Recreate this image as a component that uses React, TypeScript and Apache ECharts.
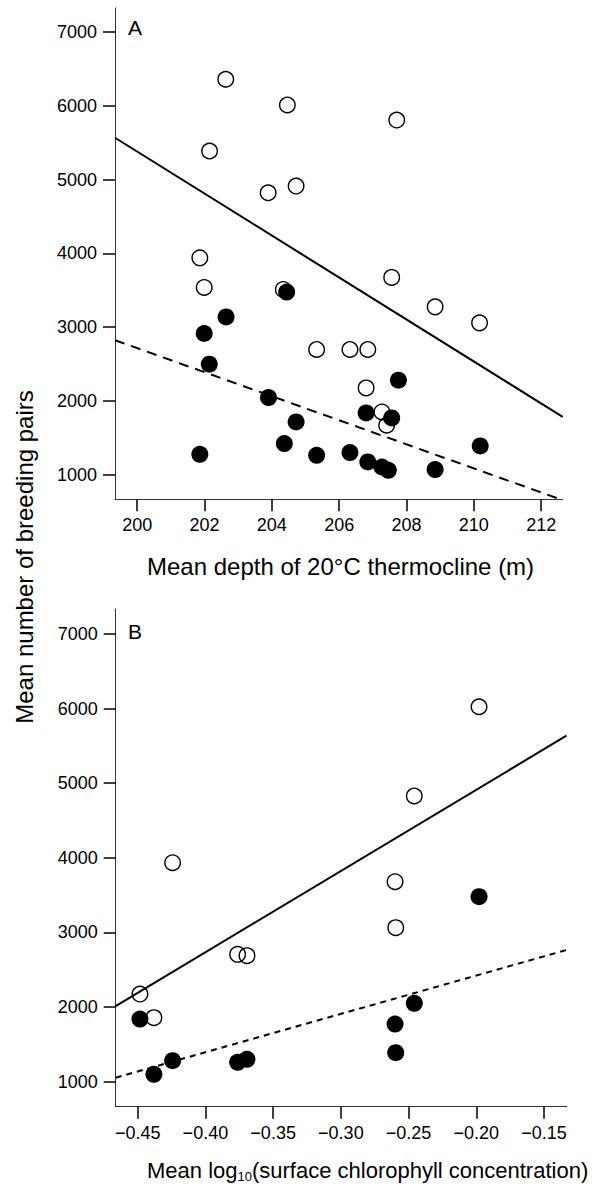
import React, { useEffect, useRef } from "react";
import * as echarts from "echarts";

// Tick labels
const depthTicks = [200, 202, 204, 206, 208, 210, 212];
const pairTicks = [1000, 2000, 3000, 4000, 5000, 6000, 7000];
const chlTicks = [-0.45, -0.4, -0.35, -0.3, -0.25, -0.2, -0.15];

// Panel A: mean depth of 20°C thermocline (m) vs breeding pairs
const depthOpen = [202.63, 204.46, 202.15, 203.89, 207.71, 204.72, 207.56, 201.86, 201.99, 204.34, 208.85, 210.17, 205.33, 206.32, 206.85, 206.8, 207.27, 207.41];
const pairsOpenA = [6360, 6011, 5387, 4821, 5807, 4912, 3673, 3939, 3537, 3510, 3274, 3057, 2696, 2696, 2696, 2175, 1849, 1669];
const depthFilled = [201.99, 202.64, 202.14, 203.9, 201.86, 204.37, 204.72, 204.44, 205.33, 206.32, 206.85, 207.27, 207.46, 208.85, 210.19, 206.8, 207.56, 207.76];
const pairsFilledA = [2913, 3138, 2497, 2045, 1275, 1421, 1714, 3474, 1262, 1298, 1171, 1103, 1058, 1068, 1388, 1836, 1768, 2280];

// Panel A regression lines (end points)
const fitDepthSolid = [199.34, 212.64];
const fitPairsSolidA = [5567, 1782];
const fitDepthDashed = [199.34, 212.57];
const fitPairsDashedA = [2822, 665];

// Panel B: mean log10 surface chlorophyll vs breeding pairs
const chlB = [-0.4483, -0.438, -0.4242, -0.3762, -0.3693, -0.26, -0.2595, -0.2458, -0.198];
const pairsOpenB = [2175, 1858, 3935, 2707, 2689, 3680, 3064, 4829, 6025];
const pairsFilledB = [1840, 1099, 1281, 1260, 1300, 1773, 1389, 2051, 3479];

// Panel B regression lines (end points)
const fitChl = [-0.4662, -0.1335];
const fitPairsSolidB = [2014, 5637];
const fitPairsDashedB = [1054, 2765];

const FONT = "'Liberation Sans', Arial, Helvetica, sans-serif";

const zip = (xs: number[], ys: number[]) => xs.map((x, i) => [x, ys[i]]);

export default function App() {
  const ref = useRef<HTMLDivElement>(null);

  useEffect(() => {
    if (!ref.current) return;
    const chart = echarts.init(ref.current, null, { renderer: "svg" });

    const axisLine = { show: true, lineStyle: { color: "#333", width: 1 } };
    const axisTick = (vals: number[]) => ({
      show: true,
      length: 12,
      lineStyle: { color: "#000", width: 1.5 },
      customValues: vals,
    });
    const axisLabel = (vals: number[], margin: number, fmt?: (v: number) => string) => ({
      show: true,
      margin,
      color: "#000",
      fontSize: 18,
      fontFamily: FONT,
      customValues: vals,
      formatter: fmt || ((v: number) => String(v)),
    });
    const minusFmt = (v: number) => (v < 0 ? "\u2212" : "") + Math.abs(v).toFixed(2);

    const openStyle = { color: "rgba(0,0,0,0)", borderColor: "#000", borderWidth: 1.4, opacity: 1 };
    const filledStyle = { color: "#000", borderColor: "#000", borderWidth: 0, opacity: 1 };

    chart.setOption({
      animation: false,
      backgroundColor: "#fff",
      grid: [
        { left: 115, top: 8, width: 447.7, height: 491.3, containLabel: false, outerBoundsMode: "none" },
        { left: 115.7, top: 609, width: 451, height: 497.7, containLabel: false, outerBoundsMode: "none" },
      ],
      xAxis: [
        {
          type: "value", gridIndex: 0, min: 199.34, max: 212.64,
          axisLine, axisTick: axisTick(depthTicks), axisLabel: axisLabel(depthTicks, 17),
          splitLine: { show: false },
        },
        {
          type: "value", gridIndex: 1, min: -0.4662, max: -0.1333,
          axisLine, axisTick: axisTick(chlTicks), axisLabel: axisLabel(chlTicks, 17, minusFmt),
          splitLine: { show: false },
        },
      ],
      yAxis: [
        {
          type: "value", gridIndex: 0, min: 665, max: 7326,
          axisLine, axisTick: axisTick(pairTicks), axisLabel: axisLabel(pairTicks, 18),
          splitLine: { show: false },
        },
        {
          type: "value", gridIndex: 1, min: 665, max: 7335,
          axisLine, axisTick: axisTick(pairTicks), axisLabel: axisLabel(pairTicks, 18),
          splitLine: { show: false },
        },
      ],
      series: [
        {
          type: "line", xAxisIndex: 0, yAxisIndex: 0, data: zip(fitDepthSolid, fitPairsSolidA),
          showSymbol: false, symbol: "none", lineStyle: { color: "#000", width: 2 }, z: 1,
        },
        {
          type: "line", xAxisIndex: 0, yAxisIndex: 0, data: zip(fitDepthDashed, fitPairsDashedA),
          showSymbol: false, symbol: "none", lineStyle: { color: "#000", width: 2, type: [10, 7] }, z: 1,
        },
        {
          type: "scatter", xAxisIndex: 0, yAxisIndex: 0, data: zip(depthOpen, pairsOpenA),
          symbol: "circle", symbolSize: 15.5, itemStyle: openStyle, z: 2,
        },
        {
          type: "scatter", xAxisIndex: 0, yAxisIndex: 0, data: zip(depthFilled, pairsFilledA),
          symbol: "circle", symbolSize: 17, itemStyle: filledStyle, z: 3,
        },
        {
          type: "line", xAxisIndex: 1, yAxisIndex: 1, data: zip(fitChl, fitPairsSolidB),
          showSymbol: false, symbol: "none", lineStyle: { color: "#000", width: 2 }, z: 1,
        },
        {
          type: "line", xAxisIndex: 1, yAxisIndex: 1, data: zip(fitChl, fitPairsDashedB),
          showSymbol: false, symbol: "none", lineStyle: { color: "#000", width: 2, type: [6, 5] }, z: 1,
        },
        {
          type: "scatter", xAxisIndex: 1, yAxisIndex: 1, data: zip(chlB, pairsOpenB),
          symbol: "circle", symbolSize: 15.5, itemStyle: openStyle, z: 2,
        },
        {
          type: "scatter", xAxisIndex: 1, yAxisIndex: 1, data: zip(chlB, pairsFilledB),
          symbol: "circle", symbolSize: 17, itemStyle: filledStyle, z: 3,
        },
      ],
      graphic: [
        { type: "text", x: 128, y: 27, style: { text: "A", fontSize: 21, fontFamily: FONT, fill: "#000", align: "left", verticalAlign: "middle" } },
        { type: "text", x: 128, y: 631, style: { text: "B", fontSize: 21, fontFamily: FONT, fill: "#000", align: "left", verticalAlign: "middle" } },
        {
          type: "text", x: 24, y: 557, rotation: Math.PI / 2,
          style: { text: "Mean number of breeding pairs", fontSize: 24, fontFamily: FONT, fill: "#000", align: "center", verticalAlign: "middle" },
        },
        {
          type: "text", x: 147, y: 566,
          style: { text: "Mean depth of 20°C thermocline (m)", fontSize: 24, fontFamily: FONT, fill: "#000", align: "left", verticalAlign: "middle" },
        },
        {
          type: "text", x: 147, y: 1170,
          style: {
            text: "{a|Mean log}{s|10}{a|(surface chlorophyll concentration)}",
            fill: "#000", align: "left", verticalAlign: "middle",
            rich: {
              a: { fontSize: 22, fontFamily: FONT, fill: "#000", lineHeight: 26 },
              s: { fontSize: 13, fontFamily: FONT, fill: "#000", lineHeight: 26, padding: [12, 0, 0, 0] },
            },
          },
        },
      ],
    });

    return () => chart.dispose();
  }, []);

  return (
    <div
      ref={ref}
      style={{ position: "absolute", left: 0, top: 0, width: 597, height: 1187, background: "#fff" }}
    />
  );
}
